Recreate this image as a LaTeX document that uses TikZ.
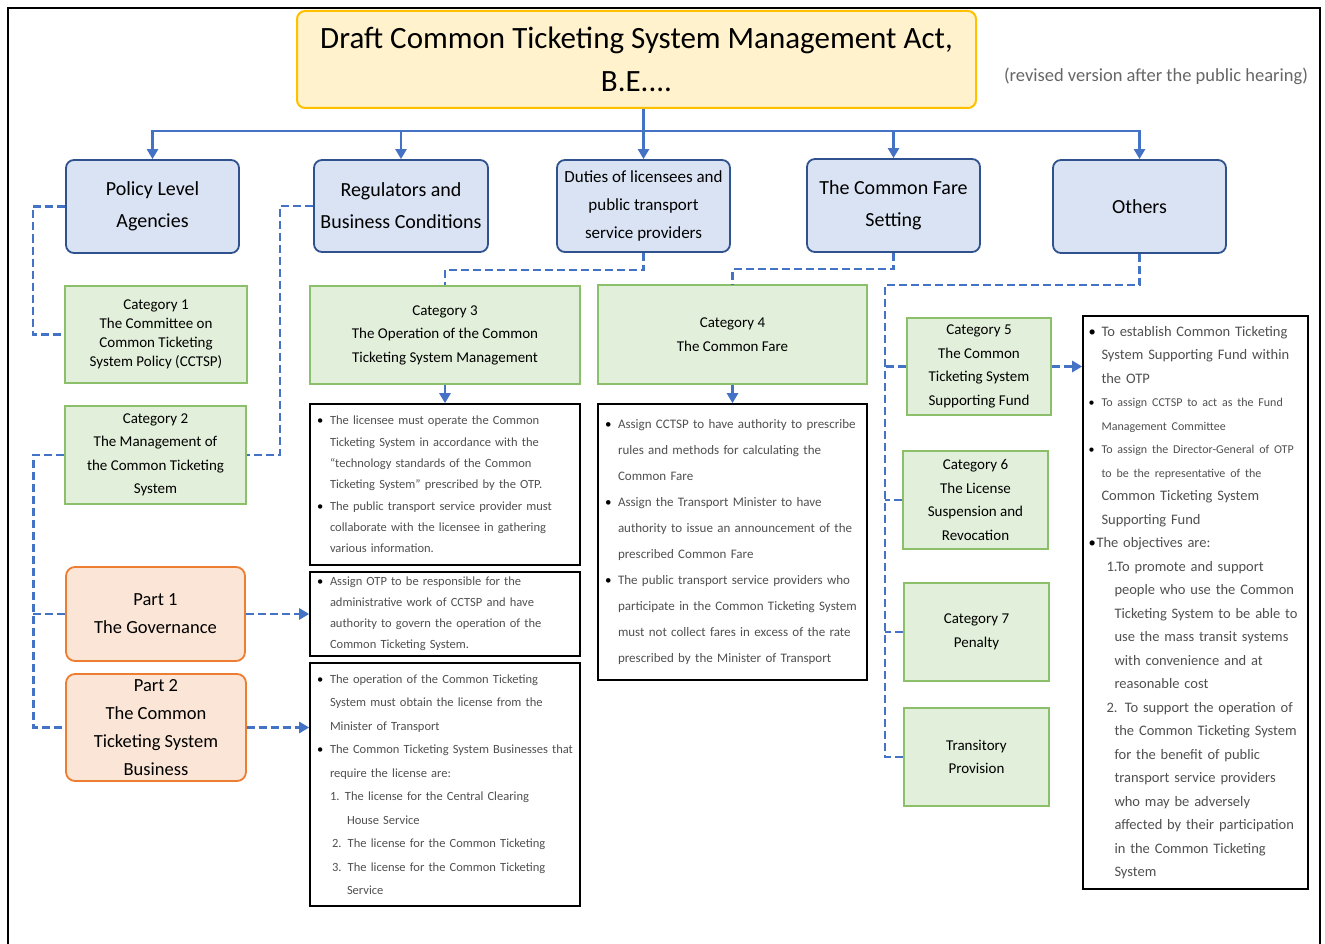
\documentclass[tikz,border=0pt]{standalone}
\usepackage{fontspec}
\setmainfont{Carlito}
\usetikzlibrary{arrows.meta, positioning, calc}
\definecolor{linkblue}{HTML}{4472C4}
\definecolor{headfill}{HTML}{FFF2CC}
\definecolor{headline}{HTML}{FFC000}
\definecolor{grpfill}{HTML}{DAE3F3}
\definecolor{grpline}{HTML}{2F528F}
\definecolor{catfill}{HTML}{E2EFDA}
\definecolor{catline}{HTML}{8CBF6A}
\definecolor{partfill}{HTML}{FBE5D6}
\definecolor{partline}{HTML}{ED7D31}
\definecolor{notetext}{HTML}{505050}
\newcommand{\blt}{\makebox[13pt][l]{\textcolor{black}{\textbullet}}}
\newcommand{\bpad}{\hspace*{13pt}}
\tikzset{
  sz/.style 2 args={minimum width=#1, minimum height=#2},
  head/.style={draw=headline, fill=headfill, line width=2pt, rounded corners=8pt, align=center, font=\fontsize{31}{43}\selectfont},
  grp/.style={draw=grpline, fill=grpfill, line width=1.8pt, rounded corners=8pt, align=center, inner sep=1pt, font=\fontsize{20}{32}\selectfont},
  cat/.style={draw=catline, fill=catfill, line width=1.2pt, align=center, inner sep=1pt, font=\fontsize{15}{23.5}\selectfont},
  part/.style={draw=partline, fill=partfill, line width=1.8pt, rounded corners=9pt, align=center, font=\fontsize{18.5}{28}\selectfont},
  note/.style={draw=black, line width=1.6pt, fill=white, align=left, text=notetext, inner xsep=7pt},
  tarr/.style={draw=linkblue, line width=2.6pt, -{Triangle[length=10pt, width=11pt]}},
  dline/.style={draw=linkblue, line width=2.6pt, dash pattern=on 8pt off 4pt},
  darr/.style={dline, -{Triangle[length=10pt, width=11pt]}},
}
\begin{document}
\begin{tikzpicture}[x=1pt, y=-1pt]
  \useasboundingbox (0,0) rectangle (1325,944);
  \draw[line width=1.5pt] (8,944) -- (8,8) -- (1320,8) -- (1320,944);

  % title and the five groups
  \node[head, sz={679}{97}] (title) at (636.5,59.5) {Draft Common Ticketing System Management Act,\\B.E....};
  \node[text=black!60, font=\fontsize{18.5}{22}\selectfont] (rev) at (1156,76) {(revised version after the public hearing)};

  \node[grp, sz={173}{93}] (policy) at (152.5,206.5) {Policy Level\\Agencies};
  \node[grp, sz={174}{92}] (regs) at (401,206) {Regulators and\\Business Conditions};
  \node[grp, sz={173}{92}, font=\fontsize{17}{28}\selectfont] (duties) at (643.5,206) {Duties of licensees and\\public transport\\service providers};
  \node[grp, sz={173}{93}] (fare) at (893.5,205.5) {The Common Fare\\Setting};
  \node[grp, sz={173}{93}] (others) at (1139.5,206.5) {Others};

  % categories and parts
  \node[cat, sz={182}{97}, font=\fontsize{15}{19}\selectfont] (cat1) at (156,334.5) {Category 1\\The Committee on\\Common Ticketing\\System Policy (CCTSP)};
  \node[cat, sz={181}{98}] (cat2) at (155.5,455) {Category 2\\The Management of\\the Common Ticketing\\System};
  \node[cat, sz={270}{98}] (cat3) at (445,335) {Category 3\\The Operation of the Common\\Ticketing System Management};
  \node[cat, sz={269}{99}] (cat4) at (732.5,334.5) {Category 4\\The Common Fare};
  \node[cat, sz={144}{97}] (cat5) at (979,366.5) {Category 5\\The Common\\Ticketing System\\Supporting Fund};
  \node[cat, sz={145}{98}] (cat6) at (975.5,500) {Category 6\\The License\\Suspension and\\Revocation};
  \node[cat, sz={145}{98}] (cat7) at (976.5,632) {Category 7\\Penalty};
  \node[cat, sz={145}{98}] (trans) at (976.5,757) {Transitory\\Provision};
  \node[part, sz={179}{94}] (part1) at (155.5,614) {Part 1\\The Governance};
  \node[part, sz={180}{107}] (part2) at (156,727.5) {Part 2\\The Common\\Ticketing System\\Business};

  % text boxes
  \node[note, sz={270}{161}, text width=256pt, font=\fontsize{12.5}{21.3}\selectfont] (t3) at (445,484.5) {%
    \blt The licensee must operate the Common\\
    \bpad Ticketing System in accordance with the\\
    \bpad ``technology standards of the Common\\
    \bpad Ticketing System'' prescribed by the OTP.\\
    \blt The public transport service provider must\\
    \bpad collaborate with the licensee in gathering\\
    \bpad various information.};
  \node[note, sz={270}{84}, text width=256pt, font=\fontsize{12.5}{21}\selectfont] (tp1) at (445,614) {%
    \blt Assign OTP to be responsible for the\\
    \bpad administrative work of CCTSP and have\\
    \bpad authority to govern the operation of the\\
    \bpad Common Ticketing System.};
  \node[note, sz={270}{243}, text width=256pt, font=\fontsize{12.5}{23.5}\selectfont] (tp2) at (445,784.5) {%
    \blt The operation of the Common Ticketing\\
    \bpad System must obtain the license from the\\
    \bpad Minister of Transport\\
    \blt The Common Ticketing System Businesses that\\
    \bpad require the license are:\\
    \bpad\makebox[15pt][l]{1.}The license for the Central Clearing\\
    \bpad\hspace*{17pt}House Service\\
    \bpad\hspace*{2pt}2. The license for the Common Ticketing\\
    \bpad\hspace*{2pt}3. The license for the Common Ticketing\\
    \bpad\hspace*{17pt}Service};
  \node[note, sz={269}{276}, text width=255pt, font=\fontsize{13}{26}\selectfont] (t4) at (732.5,542) {%
    \blt Assign CCTSP to have authority to prescribe\\
    \bpad rules and methods for calculating the\\
    \bpad Common Fare\\
    \blt Assign the Transport Minister to have\\
    \bpad authority to issue an announcement of the\\
    \bpad prescribed Common Fare\\
    \blt The public transport service providers who\\
    \bpad participate in the Common Ticketing System\\
    \bpad must not collect fares in excess of the rate\\
    \bpad prescribed by the Minister of Transport};
  \node[note, sz={225}{573}, text width=214pt, inner xsep=5.5pt, font=\fontsize{14.5}{23.5}\selectfont] (fund) at (1195.5,602.5) {%
    \blt To establish Common Ticketing\\
    \bpad System Supporting Fund within\\
    \bpad the OTP\\
    {\fontsize{12}{23.5}\selectfont\blt To assign CCTSP to act as the Fund}\\
    {\fontsize{12}{23.5}\selectfont\bpad Management Committee}\\
    {\fontsize{12}{23.5}\selectfont\blt To assign the Director-General of OTP}\\
    {\fontsize{12}{23.5}\selectfont\bpad to be the representative of the}\\
    \bpad Common Ticketing System\\
    \bpad Supporting Fund\\
    \makebox[8pt][l]{\textcolor{black}{\textbullet}}The objectives are:\\
    \bpad\hspace*{5pt}1.To promote and support\\
    \bpad\hspace*{13pt}people who use the Common\\
    \bpad\hspace*{13pt}Ticketing System to be able to\\
    \bpad\hspace*{13pt}use the mass transit systems\\
    \bpad\hspace*{13pt}with convenience and at\\
    \bpad\hspace*{13pt}reasonable cost\\
    \bpad\hspace*{5pt}2. To support the operation of\\
    \bpad\hspace*{13pt}the Common Ticketing System\\
    \bpad\hspace*{13pt}for the benefit of public\\
    \bpad\hspace*{13pt}transport service providers\\
    \bpad\hspace*{13pt}who may be adversely\\
    \bpad\hspace*{13pt}affected by their participation\\
    \bpad\hspace*{13pt}in the Common Ticketing\\
    \bpad\hspace*{13pt}System};

  % tree from the title
  \foreach \g in {policy,regs,duties,fare,others}
    \draw[tarr] (title.south -| duties.north) -- ++(0,22) -| (\g.north);

  % dashed links
  \draw[dline] (policy.west) -- ++(-32,0) |- (cat1.west);
  \draw[dline] (regs.west) -- ++(-33,0) |- (cat2.east);
  \draw[dline] (cat2.west) -- ++(-31,0) |- (part2.west);
  \draw[dline] (part1.west) -- ++(-32,0);
  \draw[darr] (part1.east) -- (tp1.west);
  \draw[darr] (part2.east) -- (part2.east -| tp2.west);
  \draw[dline] (duties.south) -- ++(0,17) -| (cat3.north);
  \draw[darr] (cat3.south) -- (t3.north);
  \draw[dline] (fare.south) -- ++(0,16) -| (cat4.north);
  \draw[darr] (cat4.south) -- (t4.north);
  \coordinate (trunk) at (885,285);
  \draw[dline] (others.south) |- (trunk) -- (trunk |- trans.west) -- (trans.west);
  \foreach \c in {cat5,cat6,cat7}
    \draw[dline] (\c.west) -- (\c.west -| trunk);
  \draw[darr] (cat5.east) -- (cat5.east -| fund.west);
\end{tikzpicture}
\end{document}
